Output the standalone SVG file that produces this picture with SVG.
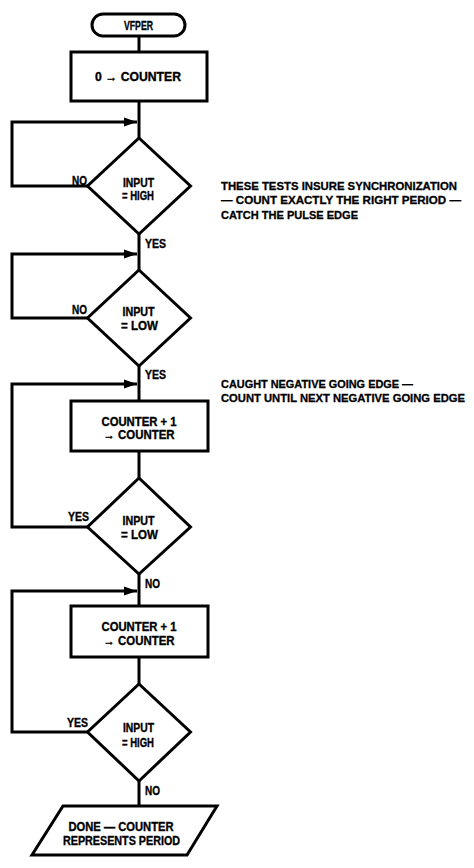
<svg xmlns="http://www.w3.org/2000/svg" width="474" height="868" viewBox="0 0 474 868">
<style>
.shape{fill:#fff;stroke:#000;stroke-width:3;stroke-linejoin:miter}
.ln{fill:none;stroke:#000;stroke-width:3;stroke-linejoin:miter}
.t{font-family:"Liberation Sans",Arial,sans-serif;font-weight:bold;font-size:12px;fill:#000;stroke:#000;stroke-width:0.35;text-anchor:middle}
.lb{font-family:"Liberation Sans",Arial,sans-serif;font-weight:bold;font-size:12.5px;fill:#000;stroke:#000;stroke-width:0.35}
.an{font-family:"Liberation Sans",Arial,sans-serif;font-weight:bold;font-size:11.5px;fill:#000;stroke:#000;stroke-width:0.3}
</style>
<defs>
<marker id="ah" markerUnits="userSpaceOnUse" markerWidth="14" markerHeight="10" refX="13" refY="5" orient="auto">
<path d="M0,0.5 L13,5 L0,9.5 Z" fill="#000"/>
</marker>
</defs>
<g id="connectors">
<path class="ln" d="M139,36 V52"/>
<path class="ln" d="M139,101 V138"/>
<path class="ln" d="M139,234 V270"/>
<path class="ln" d="M139,366 V401"/>
<path class="ln" d="M139,451 V478"/>
<path class="ln" d="M139,574 V606"/>
<path class="ln" d="M139,657 V684"/>
<path class="ln" d="M139,781 V806"/>
<path class="ln" d="M88,186 H12 V122 H137" marker-end="url(#ah)"/>
<path class="ln" d="M88,318 H12 V254 H137" marker-end="url(#ah)"/>
<path class="ln" d="M88,527 H12 V384 H137" marker-end="url(#ah)"/>
<path class="ln" d="M88,732 H12 V591 H137" marker-end="url(#ah)"/>
<text class="lb" x="87" y="184.5" text-anchor="end" textLength="15" lengthAdjust="spacingAndGlyphs">NO</text>
<text class="lb" x="145" y="248" textLength="21" lengthAdjust="spacingAndGlyphs">YES</text>
<text class="lb" x="87" y="314" text-anchor="end" textLength="15" lengthAdjust="spacingAndGlyphs">NO</text>
<text class="lb" x="145" y="379" textLength="21" lengthAdjust="spacingAndGlyphs">YES</text>
<text class="lb" x="89" y="521" text-anchor="end" textLength="21" lengthAdjust="spacingAndGlyphs">YES</text>
<text class="lb" x="145" y="588" textLength="15" lengthAdjust="spacingAndGlyphs">NO</text>
<text class="lb" x="88" y="727" text-anchor="end" textLength="21" lengthAdjust="spacingAndGlyphs">YES</text>
<text class="lb" x="145" y="795" textLength="15" lengthAdjust="spacingAndGlyphs">NO</text>
</g>
<g id="start">
<rect class="shape" x="92" y="14" width="93" height="22" rx="11" ry="11"/>
<text class="t" x="138.5" y="29.5" textLength="29" lengthAdjust="spacingAndGlyphs">VFPER</text>
</g>
<g id="init">
<rect class="shape" x="71" y="52" width="136" height="49"/>
<text class="t" x="138" y="81" textLength="86" lengthAdjust="spacingAndGlyphs">0 → COUNTER</text>
</g>
<g id="test-high-1">
<path class="shape" d="M139,138 L190.5,186 L139,234 L87.5,186 Z"/>
<text class="t" x="138.5" y="186.5" textLength="31" lengthAdjust="spacingAndGlyphs">INPUT</text>
<text class="t" x="138" y="200" textLength="32" lengthAdjust="spacingAndGlyphs">= HIGH</text>
</g>
<g id="test-low-1">
<path class="shape" d="M139,270 L190.5,318 L139,366 L87.5,318 Z"/>
<text class="t" x="138.5" y="316" textLength="32" lengthAdjust="spacingAndGlyphs">INPUT</text>
<text class="t" x="139.5" y="330" textLength="37" lengthAdjust="spacingAndGlyphs">= LOW</text>
</g>
<g id="incr-1">
<rect class="shape" x="71" y="401" width="137" height="50"/>
<text class="t" x="139" y="425.5" textLength="75" lengthAdjust="spacingAndGlyphs">COUNTER + 1</text>
<text class="t" x="139" y="439" textLength="71" lengthAdjust="spacingAndGlyphs">→ COUNTER</text>
</g>
<g id="test-low-2">
<path class="shape" d="M139,478 L190.5,527 L139,574 L87.5,527 Z"/>
<text class="t" x="138.5" y="525" textLength="32" lengthAdjust="spacingAndGlyphs">INPUT</text>
<text class="t" x="139.5" y="538.5" textLength="37" lengthAdjust="spacingAndGlyphs">= LOW</text>
</g>
<g id="incr-2">
<rect class="shape" x="71" y="606" width="137" height="51"/>
<text class="t" x="139" y="631" textLength="75" lengthAdjust="spacingAndGlyphs">COUNTER + 1</text>
<text class="t" x="139" y="644.5" textLength="71" lengthAdjust="spacingAndGlyphs">→ COUNTER</text>
</g>
<g id="test-high-2">
<path class="shape" d="M139,684 L190.5,732 L139,781 L87.5,732 Z"/>
<text class="t" x="138.5" y="731.5" textLength="31" lengthAdjust="spacingAndGlyphs">INPUT</text>
<text class="t" x="138" y="746.5" textLength="32" lengthAdjust="spacingAndGlyphs">= HIGH</text>
</g>
<g id="done">
<path class="shape" d="M63,806 L217,806 L187,855 L32,855 Z"/>
<text class="t" x="121" y="830.5" textLength="105" lengthAdjust="spacingAndGlyphs">DONE — COUNTER</text>
<text class="t" x="121.5" y="845" textLength="117" lengthAdjust="spacingAndGlyphs">REPRESENTS PERIOD</text>
</g>
<g id="note-sync">
<text class="an" x="221" y="190" textLength="236" lengthAdjust="spacingAndGlyphs">THESE TESTS INSURE SYNCHRONIZATION</text>
<text class="an" x="221" y="204.3" textLength="240" lengthAdjust="spacingAndGlyphs">— COUNT EXACTLY THE RIGHT PERIOD —</text>
<text class="an" x="221" y="218.5" textLength="137" lengthAdjust="spacingAndGlyphs">CATCH THE PULSE EDGE</text>
</g>
<g id="note-edge">
<text class="an" x="221" y="388" textLength="192" lengthAdjust="spacingAndGlyphs">CAUGHT NEGATIVE GOING EDGE —</text>
<text class="an" x="221" y="402" textLength="244" lengthAdjust="spacingAndGlyphs">COUNT UNTIL NEXT NEGATIVE GOING EDGE</text>
</g>
</svg>
